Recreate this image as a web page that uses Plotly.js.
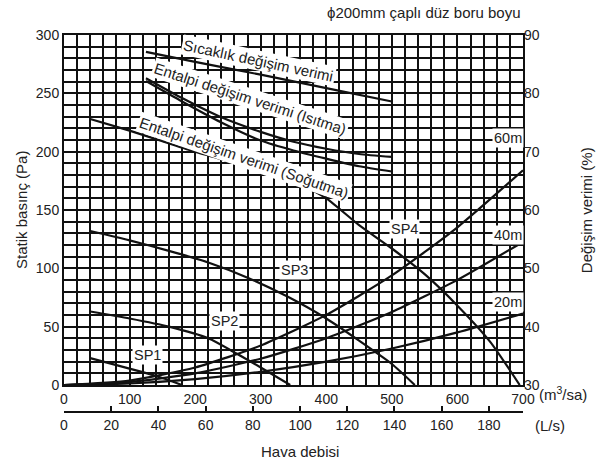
<!DOCTYPE html>
<html>
<head>
<meta charset="utf-8">
<script src="https://cdn.plot.ly/plotly-3.0.1.min.js"></script>
<style>html,body{margin:0;padding:0;background:#fff;}#chart{width:609px;height:465px;}</style>
</head>
<body>
<div id="chart"></div>
<script>
// Static pressure curves (Pa) vs air flow (m3/h)
const sp1X = [40, 80, 120, 150, 180];
const sp1Y = [23, 17, 11, 6, 0];
const sp2X = [40, 100, 160, 220, 263, 300, 345];
const sp2Y = [63, 57, 50, 40, 27, 15, 0];
const sp3X = [40, 100, 160, 220, 280, 340, 400, 450, 500, 535];
const sp3Y = [132, 124, 115, 105, 92, 76, 57, 38, 18, 0];
const sp4X = [40, 100, 150, 200, 250, 300, 350, 400, 450, 500, 550, 600, 650, 695];
const sp4Y = [228, 218, 209, 200, 192, 184, 175, 160, 137, 117, 95, 68, 37, 0];

// Duct resistance (Pa) for phi200 straight duct lengths
const ductX = [0, 100, 200, 300, 400, 500, 600, 700];
const duct20 = [0, 1.3, 5.0, 11.3, 20.0, 31.3, 45.1, 61.3];
const duct40 = [0, 2.5, 10.0, 22.5, 40.1, 62.6, 90.1, 122.7];
const duct60 = [0, 3.8, 15.0, 33.8, 60.1, 93.9, 135.2, 184.0];

// Exchange efficiency (%) - right axis
const sicX = [125, 200, 300, 400, 500];
const sicY = [87.1, 85.4, 83.2, 80.9, 78.6];
const entX = [125, 180, 240, 300, 350, 400, 450, 500];
const isitmaY = [82.6, 79.2, 75.9, 73.4, 71.7, 70.5, 69.6, 69.1];
const sogutmaY = [82.1, 78.6, 75.0, 71.9, 70.2, 68.8, 67.5, 66.6];

// Axis ticks
const lsTicks = [0, 20, 40, 60, 80, 100, 120, 140, 160, 180];
const lsMax = 700 / 3.6;

const K = '#111';
const lineStyle = {color: K, width: 2.2, shape: 'spline', smoothing: 0.6};
function tr(x, y, yaxis) {
  return {x: x, y: y, type: 'scatter', mode: 'lines', line: lineStyle,
          xaxis: 'x', yaxis: yaxis || 'y', hoverinfo: 'skip', showlegend: false};
}
const data = [
  tr(ductX, duct20), tr(ductX, duct40), tr(ductX, duct60),
  tr(sp1X, sp1Y), tr(sp2X, sp2Y), tr(sp3X, sp3Y), tr(sp4X, sp4Y),
  tr(sicX, sicY, 'y2'), tr(entX, isitmaY, 'y2'), tr(entX, sogutmaY, 'y2'),
  {x: [0, lsMax], y: [0, 0], type: 'scatter', mode: 'lines', xaxis: 'x2', yaxis: 'y',
   line: {width: 0}, opacity: 0, hoverinfo: 'skip', showlegend: false}
];

const F = 'Liberation Sans, Arial, Helvetica, sans-serif';
const tf = {family: F, size: 14, color: '#222'};
const yDom = [0.0716, 1];

function lab(text, x, y, ang, size) {
  return {text: text, x: x, y: y, xref: 'x', yref: 'y', showarrow: false,
          textangle: ang || 0, bgcolor: '#fff', borderpad: 1,
          font: {family: F, size: size || 14.5, color: '#222'}};
}
function pap(text, x, y, ang, size, xa) {
  return {text: text, x: x, y: y, xref: 'paper', yref: 'paper', showarrow: false,
          textangle: ang || 0, xanchor: xa || 'center', yanchor: 'middle',
          font: {family: F, size: size || 15, color: '#222'}};
}

const layout = {
  width: 609, height: 465,
  margin: {l: 64, r: 86, t: 35, b: 53, pad: 0},
  paper_bgcolor: '#fff', plot_bgcolor: '#fff',
  showlegend: false,
  xaxis: {range: [0, 700], tick0: 0, dtick: 100, anchor: 'y',
          showgrid: true, gridcolor: K, gridwidth: 2,
          minor: {dtick: 20, showgrid: true, gridcolor: K, gridwidth: 2},
          showline: true, linecolor: K, linewidth: 2, mirror: true,
          zeroline: false, ticks: '', tickfont: tf, fixedrange: true},
  xaxis2: {range: [0, lsMax], overlaying: 'x', anchor: 'free', position: 0, side: 'bottom',
           tickmode: 'array', tickvals: lsTicks, ticks: 'inside', ticklen: 5, tickwidth: 2, tickcolor: K,
           showline: true, linecolor: K, linewidth: 2, showgrid: false, zeroline: false,
           tickfont: tf, fixedrange: true},
  yaxis: {range: [0, 300], domain: yDom, tick0: 0, dtick: 50,
          showgrid: true, gridcolor: K, gridwidth: 2,
          minor: {dtick: 10, showgrid: true, gridcolor: K, gridwidth: 2},
          showline: true, linecolor: K, linewidth: 2, mirror: true,
          zeroline: false, ticks: '', tickfont: tf, fixedrange: true},
  yaxis2: {range: [30, 90], domain: yDom, overlaying: 'y', side: 'right', anchor: 'x',
           dtick: 10, showgrid: false, zeroline: false, showline: false, ticks: '',
           tickfont: tf, fixedrange: true},
  annotations: [
    lab('Sıcaklık değişim verimi', 296, 278, 12, 15),
    lab('Entalpi değişim verimi (Isıtma)', 284, 246, 18, 15),
    lab('Entalpi değişim verimi (Soğutma)', 274, 195, 19, 15),
    lab('SP1', 127, 26), lab('SP2', 245, 55), lab('SP3', 352, 99), lab('SP4', 520, 134),
    lab('60m', 677, 212), lab('40m', 677, 129), lab('20m', 677, 71),
    pap('ϕ200mm çaplı düz boru boyu', 1.0, 1.061, 0, 15, 'right'),
    pap('Statik basınç (Pa)', -0.0915, 0.536, -90, 15),
    pap('Değişim verimi (%)', 1.14, 0.536, -90, 15),
    pap('(m<sup>3</sup>/sa)', 1.087, 0.048, 0, 15),
    pap('(L/s)', 1.059, -0.037, 0, 15),
    pap('Hava debisi', 0.514, -0.106, 0, 15)
  ]
};

Plotly.newPlot('chart', data, layout, {staticPlot: true, displayModeBar: false});
</script>
</body>
</html>
